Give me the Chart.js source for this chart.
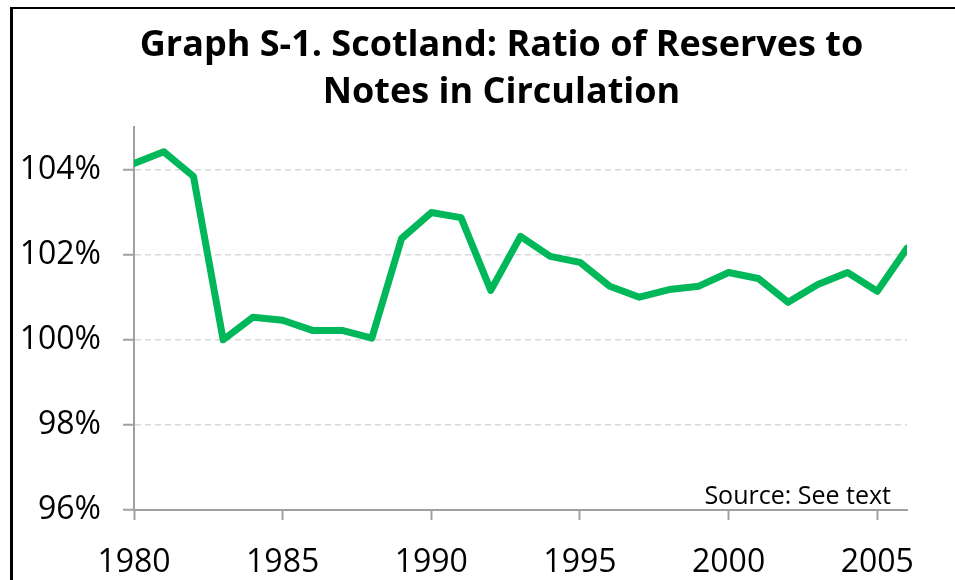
<!DOCTYPE html>
<html>
<head>
<meta charset="utf-8">
<script src="https://cdn.jsdelivr.net/npm/chart.js@4.4.0/dist/chart.umd.min.js"></script>
<style>
body { margin:0; background:#fff; overflow:hidden; }
#frame { position:absolute; left:10px; top:7px; width:1000px; height:700px; border-left:3px solid #000; border-top:2px solid #000; }
#wrap { position:absolute; left:0; top:0; width:955px; height:580px; }
</style>
</head>
<body>
<div id="frame"></div>
<div id="wrap"><canvas id="chart"></canvas></div>
<script>
// years on the x axis
var years = [1980,1981,1982,1983,1984,1985,1986,1987,1988,1989,1990,1991,1992,1993,
             1994,1995,1996,1997,1998,1999,2000,2001,2002,2003,2004,2005,2006];
// ratio of reserves to notes in circulation, percent
var ratio = [104.14,104.42,103.84,100.00,100.53,100.46,100.22,100.22,100.04,102.38,
             102.99,102.87,101.16,102.43,101.96,101.82,101.26,101.00,101.18,101.26,
             101.58,101.44,100.88,101.30,101.58,101.14,102.15];
var xTicks = [1980,1985,1990,1995,2000,2005];
var yTicks = [96,98,100,102,104];

var titleLines = ["Graph S-1. Scotland: Ratio of Reserves to", "Notes in Circulation"];
var sourceNote = "Source: See text";

var FONT = "'Open Sans', 'Noto Sans', sans-serif";

var pts = [];
for (var i=0; i<years.length; i++) {
        pts.push({x: years[i], y: ratio[i]});
}

// title and source note, drawn by hand so the title can sit off-centre like the original
var textPlugin = {
        id: "texts",
        afterDraw: function(chart) {
                var ctx = chart.ctx;
                var a = chart.chartArea;
                ctx.save();
                ctx.fillStyle = "#000";

                ctx.font = "bold 36px " + FONT;
                ctx.textAlign = "center";
                ctx.textBaseline = "middle";
                var cx = chart.width / 2 + 24;
                for (var i=0; i<titleLines.length; i++) {
                        ctx.fillText(titleLines[i], cx, 45.5 + i*47);
                }

                ctx.font = "25px " + FONT;
                ctx.textAlign = "right";
                ctx.textBaseline = "alphabetic";
                ctx.fillText(sourceNote, a.right - 16, a.bottom - 6);
                ctx.restore();
        }
};

var MyChart = new Chart(document.getElementById("chart"), {
        type: 'line',
        data: {
                datasets: [{
                        data: pts,
                        borderColor: "#00b85a",
                        borderWidth: 7,
                        pointRadius: 0,
                        tension: 0,
                        borderJoinStyle: "round",
                        borderCapStyle: "round"
                }]
        },
        options: {
                responsive: true,
                maintainAspectRatio: false,
                animation: false,
                layout: { padding: { left: 0, right: 48, top: 127, bottom: 0 } },
                plugins: {
                        legend: { display: false },
                        tooltip: { enabled: false },
                        title: { display: false }
                },
                scales: {
                        x: {
                                type: 'linear',
                                min: 1980,
                                max: 2006,
                                afterBuildTicks: function(scale) {
                                        scale.ticks = xTicks.map(function(v) { return {value: v}; });
                                },
                                afterFit: function(scale) { scale.height = 70; },
                                grid: { drawOnChartArea: false, drawTicks: true, tickLength: 10, tickColor: "#a0a0a0", tickWidth: 2 },
                                border: { color: "#a0a0a0", width: 2 },
                                ticks: {
                                        color: "#000",
                                        font: { family: FONT, size: 32 },
                                        padding: 24,
                                        maxRotation: 0,
                                        callback: function(v) { return String(v); }
                                }
                        },
                        y: {
                                min: 96,
                                max: 105,
                                afterBuildTicks: function(scale) {
                                        scale.ticks = yTicks.map(function(v) { return {value: v}; });
                                },
                                afterFit: function(scale) { scale.width = 134; },
                                grid: {
                                        color: function(c) { return c.tick && c.tick.value === 96 ? "rgba(0,0,0,0)" : "#d9d9d9"; },
                                        lineWidth: 1.5,
                                        tickLength: 11,
                                        tickColor: "#a0a0a0",
                                        tickWidth: 2
                                },
                                border: { color: "#a0a0a0", width: 2, dash: [6, 4] },
                                ticks: {
                                        color: "#000",
                                        font: { family: FONT, size: 32 },
                                        padding: 22,
                                        callback: function(v) { return v + "%"; }
                                }
                        }
                }
        },
        plugins: [textPlugin]
});
</script>
</body>
</html>
